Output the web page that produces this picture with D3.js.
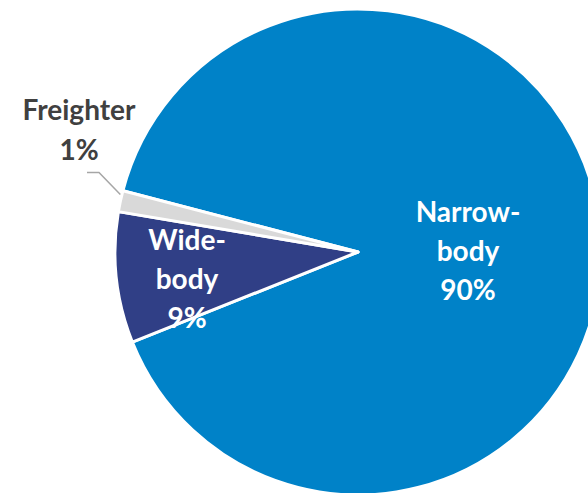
<!DOCTYPE html>
<html>
<head>
<meta charset="utf-8">
<script src="https://cdn.jsdelivr.net/npm/d3@7"></script>
<style>
  html, body { margin: 0; padding: 0; background: #fff; overflow: hidden; }
  svg { display: block; }
</style>
</head>
<body>
<svg id="chart" width="588" height="493"></svg>
<script>
const categories = ["Narrow-body", "Wide-body", "Freighter"];
const shares = [89.9, 8.7, 1.4];
const labelLines = [["Narrow-", "body"], ["Wide-", "body"], ["Freighter"]];
const colors = ["#0082C8", "#303F86", "#D9D9D9"];
const labelColors = ["#FFFFFF", "#FFFFFF", "#404040"];

const data = categories.map((c, i) => ({ name: c, value: shares[i], lines: labelLines[i], color: colors[i], tcolor: labelColors[i] }));

const svg = d3.select("#chart");
const cx = 358, cy = 252, R = 243;
const startDeg = 284.6;

const pie = d3.pie().sort(null).value(d => d.value)
  .startAngle(startDeg * Math.PI / 180)
  .endAngle((startDeg + 360) * Math.PI / 180);
const arc = d3.arc().innerRadius(0).outerRadius(R);

const g = svg.append("g").attr("transform", `translate(${cx},${cy})`);
const arcs = pie(data);

g.selectAll("path").data(arcs).join("path")
  .attr("d", arc)
  .attr("fill", d => d.data.color)
  .attr("stroke", "#fff")
  .attr("stroke-width", 3)
  .attr("stroke-linejoin", "round");

const fmt = v => Math.round(v) + "%";
const font = "Lato, 'Open Sans', sans-serif";
const lineH = 39;

const labelPos = [
  { x: 468, y: 222 },
  { x: 187, y: 250 },
  { x: 79, y: 120 }
];

arcs.forEach((a, i) => {
  const lines = a.data.lines.concat([fmt(a.data.value)]);
  const t = svg.append("text")
    .attr("text-anchor", "middle")
    .attr("fill", a.data.tcolor)
    .style("font-family", font)
    .style("font-weight", "bold")
    .style("font-size", "28px");
  lines.forEach((ln, j) => {
    t.append("tspan").attr("x", labelPos[i].x).attr("y", labelPos[i].y + j * (i === 2 ? 40 : lineH)).text(ln);
  });
});

// leader line for Freighter
const fr = arcs[2];
const mid = (fr.startAngle + fr.endAngle) / 2;
const ex = cx + Math.sin(mid) * (R - 2), ey = cy - Math.cos(mid) * (R - 2);
svg.append("path")
  .attr("d", `M87,172.5 L99,172.5 L${ex - 2},${ey - 7}`)
  .attr("fill", "none")
  .attr("stroke", "#A6A6A6")
  .attr("stroke-width", 1.5);
</script>
</body>
</html>
